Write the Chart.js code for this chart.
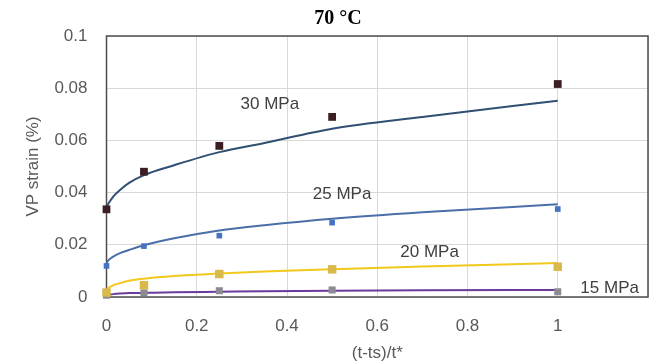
<!DOCTYPE html>
<html>
<head>
<meta charset="utf-8">
<script src="https://cdn.jsdelivr.net/npm/chart.js@4.4.1/dist/chart.umd.min.js"></script>
<style>
  html, body { margin: 0; padding: 0; background: #fff; }
</style>
</head>
<body>
<canvas id="vpChart" width="654" height="364"></canvas>
<script>
// Measured VP strain at 70 °C (normalised time)
const timeX = [0, 0.083, 0.25, 0.5, 1];
const strain30 = [0.0336, 0.048, 0.0579, 0.069, 0.0816];
const strain25 = [0.0119, 0.0195, 0.0235, 0.0285, 0.0337];
const strain20 = [0.0017, 0.0045, 0.0088, 0.0106, 0.0116];
const strain15 = [0.0007, 0.0016, 0.0024, 0.0027, 0.002];

// Fitted curves
const fitX = [0, 0.005, 0.015, 0.03, 0.05, 0.083, 0.15, 0.25, 0.35, 0.5, 0.7, 1];
const fit30 = [0.0345, 0.036, 0.0385, 0.041, 0.0437, 0.0467, 0.0505, 0.0555, 0.059, 0.0645, 0.069, 0.0752];
const fit25 = [0.013, 0.0142, 0.0155, 0.0168, 0.018, 0.0198, 0.0225, 0.0255, 0.0275, 0.030, 0.0325, 0.0355];
const fit20 = [0.0025, 0.0035, 0.0045, 0.0053, 0.0062, 0.007, 0.008, 0.009, 0.0098, 0.0106, 0.0117, 0.013];
const fit15 = [0.0008, 0.0009, 0.0011, 0.0013, 0.0015, 0.0016, 0.0018, 0.002, 0.0022, 0.0024, 0.0026, 0.0027];

const seriesNames = ['30 MPa', '25 MPa', '20 MPa', '15 MPa'];
const xTickValues = [0, 0.2, 0.4, 0.6, 0.8, 1, 1.2];
const xTickLabels = ['0', '0.2', '0.4', '0.6', '0.8', '1', ''];
const yTickValues = [0, 0.02, 0.04, 0.06, 0.08, 0.1];
const yTickLabels = ['0', '0.02', '0.04', '0.06', '0.08', '0.1'];
const chartTitle = '70 °C';

const textColor = '#595959';
const axisFont = { family: "'Liberation Sans', Arial, sans-serif", size: 17 };

function pts(xs, ys) {
    return xs.map((x, i) => ({ x: x, y: ys[i] }));
}

function markerSet(name, ys, color, radius) {
    return {
        label: name,
        data: pts(timeX, ys),
        showLine: false,
        pointStyle: 'rect',
        pointRadius: radius,
        backgroundColor: color,
        borderColor: color,
        borderWidth: 0,
        clip: false,
        order: 0
    };
}

function fitSet(name, ys, color) {
    return {
        label: name + ' fit',
        data: pts(fitX, ys),
        showLine: true,
        pointRadius: 0,
        borderColor: color,
        borderWidth: 2,
        cubicInterpolationMode: 'monotone',
        order: 1
    };
}

// frame around the plot area, title and the series labels
const plotDecor = {
    id: 'plotDecor',
    beforeDatasetsDraw(chart) {
        const { ctx, chartArea: a } = chart;
        ctx.save();
        ctx.strokeStyle = '#4d4d4d';
        ctx.lineWidth = 1.5;
        ctx.strokeRect(a.left, a.top, a.right - a.left, a.bottom - a.top);
        ctx.restore();
    },
    afterDraw(chart) {
        const { ctx, scales } = chart;
        ctx.save();
        ctx.fillStyle = '#000';
        ctx.font = "bold 20px 'Liberation Serif', 'Times New Roman', serif";
        ctx.textAlign = 'center';
        ctx.textBaseline = 'middle';
        ctx.fillText(chartTitle, 338, 19);

        // label spots in data units
        const spots = [[0.362, 0.0739], [0.522, 0.0395], [0.716, 0.0172], [1.115, 0.0034]];
        ctx.fillStyle = '#404040';
        ctx.font = "17px 'Liberation Sans', Arial, sans-serif";
        seriesNames.forEach((name, i) => {
            ctx.fillText(name, scales.x.getPixelForValue(spots[i][0]), scales.y.getPixelForValue(spots[i][1]));
        });
        ctx.restore();
    }
};

const ctx = document.getElementById('vpChart').getContext('2d');
new Chart(ctx, {
    type: 'scatter',
    data: {
        datasets: [
            markerSet(seriesNames[0], strain30, '#3a1e22', 5.5),
            markerSet(seriesNames[1], strain25, '#4472c4', 4),
            markerSet(seriesNames[2], strain20, '#d9b84c', 6),
            markerSet(seriesNames[3], strain15, '#8e8a92', 5),
            fitSet(seriesNames[0], fit30, '#2f4f73'),
            fitSet(seriesNames[1], fit25, '#4a6fa8'),
            fitSet(seriesNames[2], fit20, '#f2c81c'),
            fitSet(seriesNames[3], fit15, '#6a3a9c')
        ]
    },
    options: {
        responsive: false,
        animation: false,
        layout: { autoPadding: false, padding: { top: 36, right: 6, left: 0, bottom: 0 } },
        plugins: {
            legend: { display: false },
            tooltip: { enabled: false },
            title: { display: false }
        },
        scales: {
            x: {
                type: 'linear',
                min: 0,
                max: 1.2,
                afterFit: s => { s.height = 67; s.paddingRight = 0; },
                afterBuildTicks: s => { s.ticks = xTickValues.map(v => ({ value: v })); },
                grid: { color: '#d9d9d9', drawTicks: false },
                border: { display: false },
                ticks: {
                    padding: 19,
                    color: textColor,
                    font: axisFont,
                    maxRotation: 0,
                    autoSkip: false,
                    callback: (v, i) => xTickLabels[i]
                },
                title: {
                    display: true,
                    text: '(t-ts)/t*',
                    color: textColor,
                    font: axisFont,
                    padding: { top: 0, bottom: 0 }
                }
            },
            y: {
                type: 'linear',
                min: 0,
                max: 0.1,
                afterFit: s => { s.width = 106.5; },
                afterBuildTicks: s => { s.ticks = yTickValues.map(v => ({ value: v })); },
                grid: { color: '#d9d9d9', drawTicks: false },
                border: { display: false },
                ticks: {
                    padding: 19,
                    color: textColor,
                    font: axisFont,
                    autoSkip: false,
                    callback: (v, i) => yTickLabels[i]
                },
                title: {
                    display: true,
                    text: 'VP strain (%)',
                    color: textColor,
                    font: axisFont,
                    padding: { top: 23, bottom: 0 }
                }
            }
        }
    },
    plugins: [plotDecor]
});
</script>
</body>
</html>
